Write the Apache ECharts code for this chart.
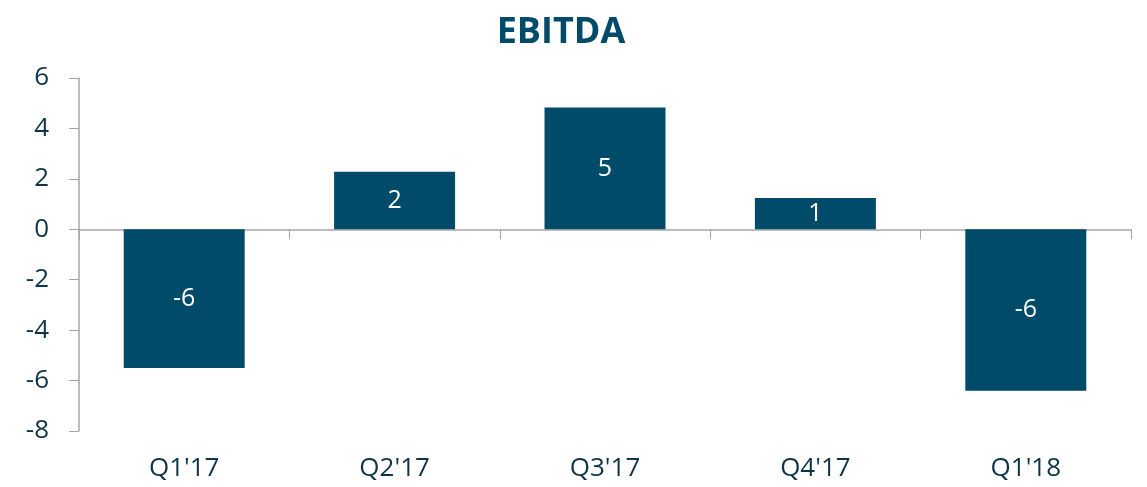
<!DOCTYPE html>
<html>
<head>
<meta charset="utf-8">
<script src="https://cdn.jsdelivr.net/npm/echarts@6/dist/echarts.min.js"></script>
<style>
  html, body { margin: 0; padding: 0; background: #fff; }
  #chart { width: 1147px; height: 487px; }
</style>
</head>
<body>
<div id="chart"></div>
<script>
// data
const quarters = ["Q1'17", "Q2'17", "Q3'17", "Q4'17", "Q1'18"];
const ebitda = [-5.5, 2.28, 4.83, 1.24, -6.4];
const yTicks = { min: -8, max: 6, step: 2 };

const navy = '#004a6a';
const textColor = '#0e3448';
const axisGrey = '#a6a6a6';
const font = '"Open Sans", "Liberation Sans", sans-serif';

const chart = echarts.init(document.getElementById('chart'));
chart.setOption({
  animation: false,
  title: {
    text: 'EBITDA',
    left: 556,
    textAlign: 'center',
    top: 10,
    textStyle: { fontFamily: font, fontSize: 36, fontWeight: 'bold', color: navy }
  },
  grid: { left: 79, right: 16, top: 78, bottom: 56 },
  xAxis: [
    {
      type: 'category',
      data: quarters,
      axisLine: { onZero: true, lineStyle: { color: axisGrey, width: 1.5 } },
      axisTick: { show: true, length: 10, lineStyle: { color: axisGrey } },
      axisLabel: { show: false }
    },
    {
      type: 'category',
      data: quarters,
      position: 'bottom',
      axisLine: { show: false },
      axisTick: { show: false },
      axisLabel: { margin: 25, fontFamily: font, fontSize: 26, color: textColor }
    }
  ],
  yAxis: {
    type: 'value',
    min: yTicks.min,
    max: yTicks.max,
    interval: yTicks.step,
    splitLine: { show: false },
    axisLine: { show: true, lineStyle: { color: axisGrey, width: 1.5 } },
    axisTick: { show: true, length: 10, lineStyle: { color: axisGrey } },
    axisLabel: { margin: 30, fontFamily: font, fontSize: 26, color: textColor }
  },
  series: [
    {
      type: 'bar',
      xAxisIndex: 0,
      data: ebitda,
      barWidth: '57.5%',
      itemStyle: { color: navy },
      label: {
        show: true,
        position: 'inside',
        fontFamily: font,
        fontSize: 25,
        color: '#ffffff',
        formatter: p => p.value.toFixed(0)
      }
    }
  ]
});
</script>
</body>
</html>
